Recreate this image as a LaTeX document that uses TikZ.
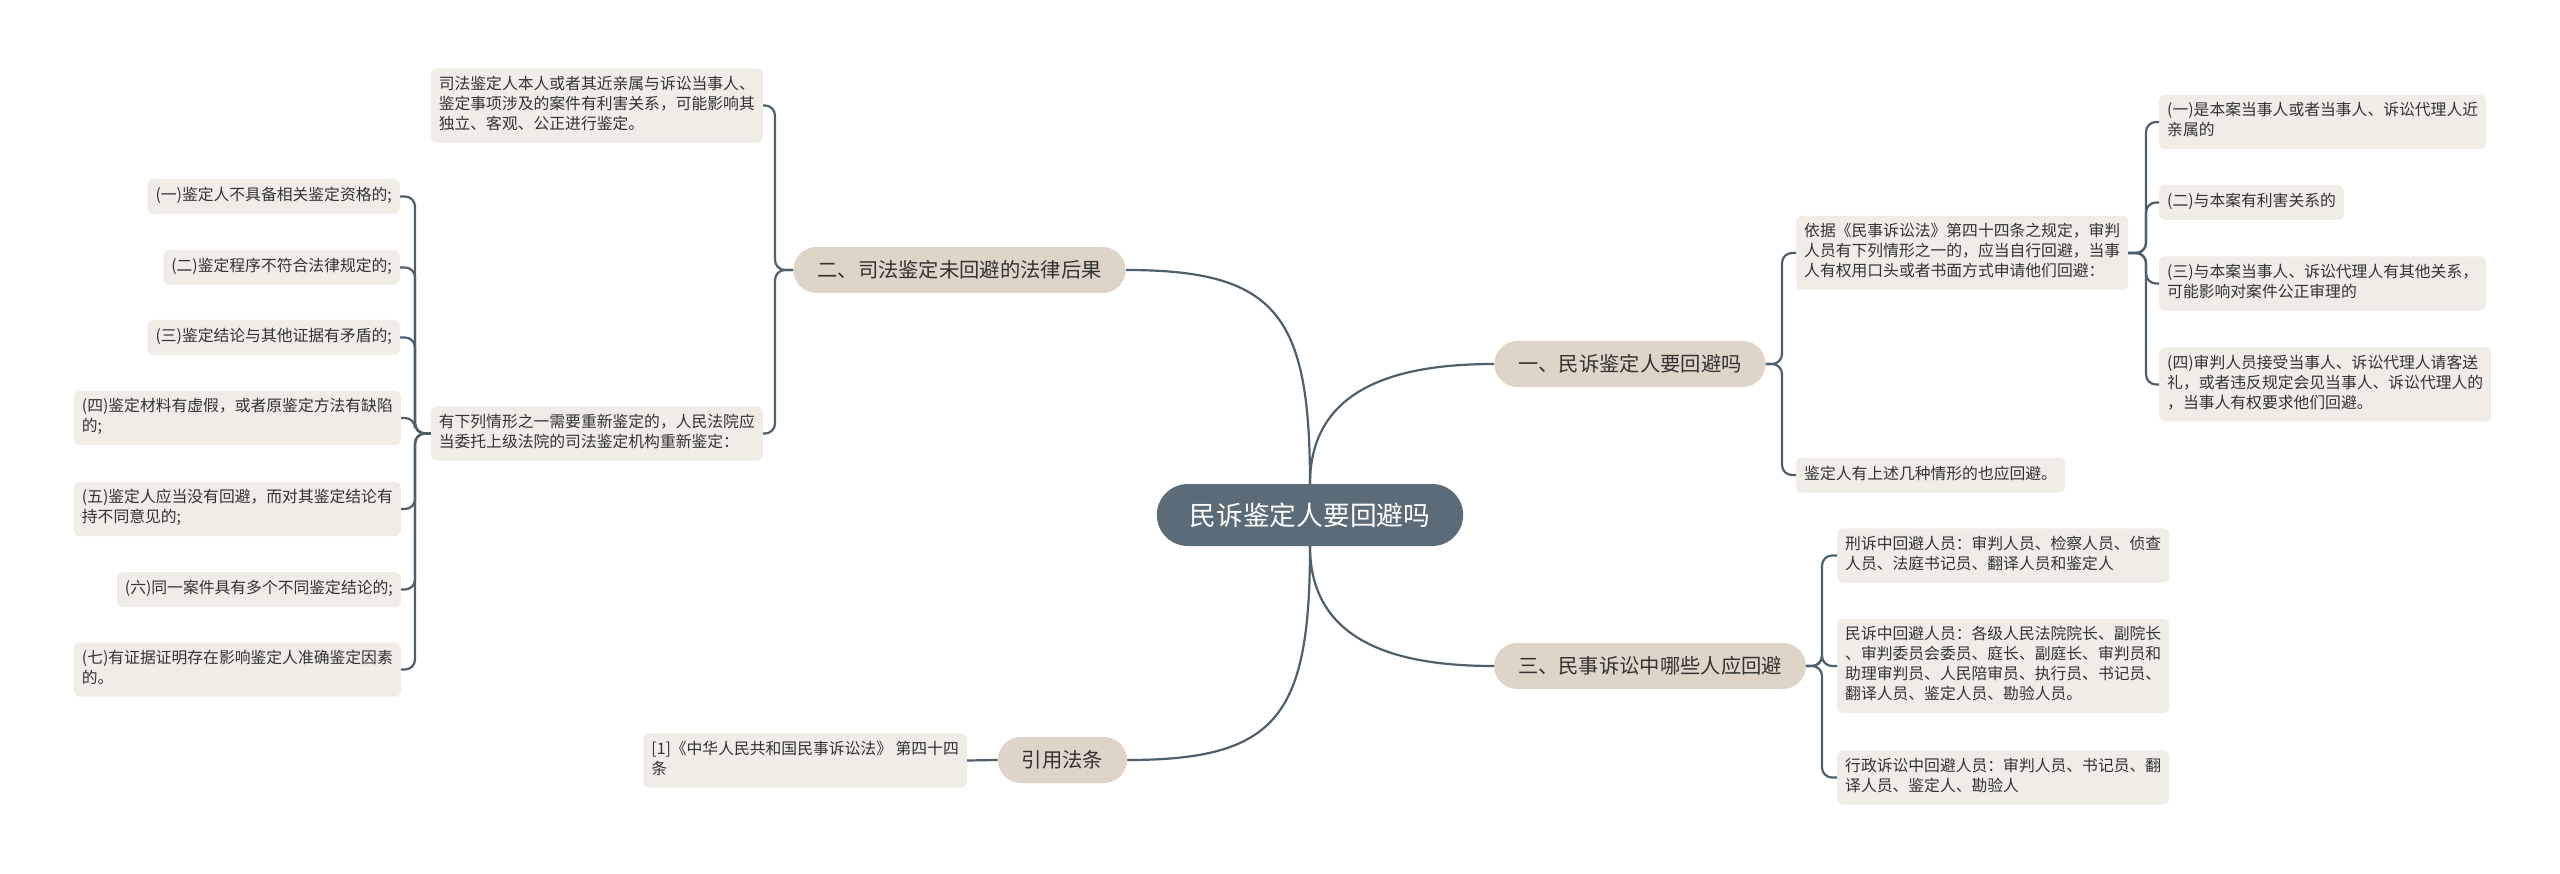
\documentclass[tikz,border=0pt]{standalone}
\usepackage{fontspec}
\newfontfamily\cjk{Noto Sans CJK SC}
\definecolor{linec}{RGB}{79,95,107}
\definecolor{rootc}{RGB}{91,107,119}
\definecolor{topc}{RGB}{222,213,200}
\definecolor{leafc}{RGB}{240,237,231}
\definecolor{txt}{RGB}{51,51,51}
\tikzset{
  leaf/.style={fill=leafc, rounded corners=6pt, font=\cjk\fontsize{15.8}{20}\selectfont, text=txt, align=left, inner xsep=8pt, inner ysep=7.5pt, execute at begin node=\strut, execute at end node=\strut},
  topic/.style={fill=topc, rounded corners=23pt, minimum height=46pt, inner xsep=24pt, inner ysep=0pt, font=\cjk\fontsize{20.3}{24}\selectfont, text=txt},
  rootn/.style={fill=rootc, rounded corners=31pt, minimum height=62pt, inner xsep=33pt, inner ysep=0pt, font=\cjk\fontsize{26.7}{30}\selectfont, text=white},
  conn/.style={draw=linec, line width=2.2pt},
  brk/.style={conn, rounded corners=10pt}
}
\begin{document}
\begin{tikzpicture}[x=1pt,y=-1pt]
\fill[white] (0,0) rectangle (2560,874);
\useasboundingbox (0,0) rectangle (2560,874);

% root and topics
\node[rootn] (root) at (1310,515) {民诉鉴定人要回避吗};
\node[topic] (n1) at (1630,364) {一、民诉鉴定人要回避吗};
\node[topic] (n3) at (1650,666) {三、民事诉讼中哪些人应回避};
\node[topic] (n2) at (959.5,270) {二、司法鉴定未回避的法律后果};
\node[topic] (n4) at (1062.5,760) {引用法条};

% right side leaves
\node[leaf, anchor=west] (la) at (1796,253) {依据《民事诉讼法》第四十四条之规定，审判\\人员有下列情形之一的，应当自行回避，当事\\人有权用口头或者书面方式申请他们回避：};
\node[leaf, anchor=west] (lb) at (1796,475) {鉴定人有上述几种情形的也应回避。};
\node[leaf, anchor=west] (r1) at (2159,122) {(一)是本案当事人或者当事人、诉讼代理人近\\亲属的};
\node[leaf, anchor=west] (r2) at (2159,202.5) {(二)与本案有利害关系的};
\node[leaf, anchor=west] (r3) at (2159,283.5) {(三)与本案当事人、诉讼代理人有其他关系，\\可能影响对案件公正审理的};
\node[leaf, anchor=west] (r4) at (2159,384.5) {(四)审判人员接受当事人、诉讼代理人请客送\\礼，或者违反规定会见当事人、诉讼代理人的\\，当事人有权要求他们回避。};
\node[leaf, anchor=west] (t1) at (1837,555.5) {刑诉中回避人员：审判人员、检察人员、侦查\\人员、法庭书记员、翻译人员和鉴定人};
\node[leaf, anchor=west] (t2) at (1837,666) {民诉中回避人员：各级人民法院院长、副院长\\、审判委员会委员、庭长、副庭长、审判员和\\助理审判员、人民陪审员、执行员、书记员、\\翻译人员、鉴定人员、勘验人员。};
\node[leaf, anchor=west] (t3) at (1837,777.5) {行政诉讼中回避人员：审判人员、书记员、翻\\译人员、鉴定人、勘验人};

% left side leaves
\node[leaf, anchor=east] (e1) at (763,105.5) {司法鉴定人本人或者其近亲属与诉讼当事人、\\鉴定事项涉及的案件有利害关系，可能影响其\\独立、客观、公正进行鉴定。};
\node[leaf, anchor=east] (e2) at (763,433.5) {有下列情形之一需要重新鉴定的，人民法院应\\当委托上级法院的司法鉴定机构重新鉴定：};
\node[leaf, anchor=east] (s1) at (400,196.5) {(一)鉴定人不具备相关鉴定资格的;};
\node[leaf, anchor=east] (s2) at (400,267.5) {(二)鉴定程序不符合法律规定的;};
\node[leaf, anchor=east] (s3) at (400,337.5) {(三)鉴定结论与其他证据有矛盾的;};
\node[leaf, anchor=east] (s4) at (401,418) {(四)鉴定材料有虚假，或者原鉴定方法有缺陷\\的;};
\node[leaf, anchor=east] (s5) at (401,509) {(五)鉴定人应当没有回避，而对其鉴定结论有\\持不同意见的;};
\node[leaf, anchor=east] (s6) at (401,589.5) {(六)同一案件具有多个不同鉴定结论的;};
\node[leaf, anchor=east] (s7) at (401,669.5) {(七)有证据证明存在影响鉴定人准确鉴定因素\\的。};
\node[leaf, anchor=east] (cite) at (967,760.5) {[1]《中华人民共和国民事诉讼法》 第四十四\\条};

% bracket junctions
\coordinate (b1) at (1782,364);
\coordinate (ba) at (2146,253);
\coordinate (b3) at (1822,666);
\coordinate (b2) at (775,270);
\coordinate (be) at (415,433.5);

% main curves
\draw[conn] (root.north) .. controls +(0,-100) and +(-90,0) .. (n1.west);
\draw[conn] (root.north) .. controls +(0,-170) and +(150,0) .. (n2.east);
\draw[conn] (root.south) .. controls +(0,100) and +(-90,0) .. (n3.west);
\draw[conn] (root.south) .. controls +(0,170) and +(150,0) .. (n4.east);

% brackets
\foreach \c in {la,lb} \draw[brk] (n1.east) -- (b1) |- (\c.west);
\foreach \c in {r1,r2,r3,r4} \draw[brk] (la.east) -- (ba) |- (\c.west);
\foreach \c in {t1,t2,t3} \draw[brk] (n3.east) -- (b3) |- (\c.west);
\foreach \c in {e1,e2} \draw[brk] (n2.west) -- (b2) |- (\c.east);
\foreach \c in {s1,s2,s3,s4,s5,s6,s7} \draw[brk] (e2.west) -- (be) |- (\c.east);
\draw[conn] (n4.west) -- (cite.east);
\end{tikzpicture}
\end{document}
